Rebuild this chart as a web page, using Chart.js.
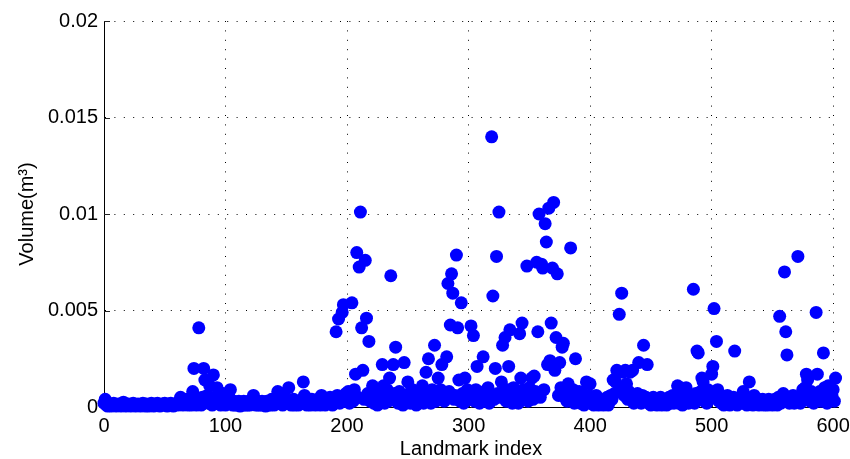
<!DOCTYPE html>
<html>
<head>
<meta charset="utf-8">
<script src="https://cdn.jsdelivr.net/npm/chart.js@4.4.0/dist/chart.umd.min.js"></script>
<style>
  html, body { margin: 0; padding: 0; background: #fff; }
  #wrap { width: 850px; height: 459px; }
</style>
</head>
<body>
<div id="wrap"><canvas id="volumeChart"></canvas></div>
<script>
// Volume (m^3) of each landmark, landmark index = position in the array (0..602)
const volume = [
  0.0002,0.0004,0.0001,0.00005,0.0001,0.00015,0.00005,0.0001,0.0002,0.0001,
  0.00005,0.0001,0.00015,0.0001,0.00005,0.0001,0.00025,0.0001,0.00005,0.0001,
  0.00015,0.0001,0.00005,0.0001,0.0002,0.0001,0.00005,0.0001,0.00015,0.0001,
  0.00005,0.0001,0.0002,0.0001,0.00005,0.00015,0.0001,0.00005,0.0001,0.0002,
  0.0001,0.00005,0.0001,0.00015,0.0002,0.0001,0.00005,0.0001,0.00015,0.0001,
  0.0002,0.0001,0.00005,0.0001,0.00015,0.0002,0.0001,0.00005,0.0001,0.00015,
  0.0002,0.0001,0.0003,0.0005,0.0002,0.0001,0.0003,0.0002,0.0004,0.0001,
  0.0003,0.0002,0.0001,0.0008,0.002,0.0003,0.0001,0.0004,0.0041,0.0002,
  0.0001,0.0005,0.002,0.0014,0.0003,0.0006,0.0002,0.0011,0.0004,0.0001,
  0.00166,0.0003,0.0005,0.001,0.0002,0.0004,0.0001,0.0003,0.0007,0.0002,
  0.0001,0.0003,0.0002,0.0005,0.0009,0.0002,0.0001,0.0003,0.0001,0.0002,
  0.0001,0.0003,0.00005,0.0002,0.0001,0.0003,0.0001,0.0002,0.0001,0.0003,
  0.0001,0.0002,0.0004,0.0006,0.0002,0.0001,0.0003,0.0001,0.0002,0.0001,
  0.0003,0.0001,0.0002,0.00005,0.0003,0.0001,0.0002,0.0001,0.0004,0.0002,
  0.0001,0.0003,0.0002,0.0008,0.0003,0.0007,0.0002,0.0001,0.0003,0.0002,
  0.0004,0.0002,0.001,0.0003,0.0001,0.0002,0.0004,0.0001,0.0003,0.0002,
  0.0001,0.0003,0.0002,0.0004,0.0013,0.0006,0.0002,0.0001,0.0003,0.0002,
  0.0001,0.0004,0.0002,0.0003,0.0001,0.0002,0.0004,0.0002,0.0001,0.0006,
  0.0002,0.0003,0.0001,0.0004,0.0002,0.0003,0.0005,0.0002,0.0001,0.0004,
  0.0003,0.0039,0.0006,0.00456,0.0002,0.0005,0.0049,0.0053,0.0003,0.0007,
  0.0004,0.0008,0.0002,0.0006,0.0054,0.0003,0.0009,0.0017,0.008,0.0005,
  0.00725,0.0101,0.0041,0.0019,0.0004,0.0076,0.0046,0.0007,0.0034,0.0003,
  0.0006,0.0011,0.0002,0.0008,0.0004,0.0001,0.0007,0.0003,0.0005,0.0022,
  0.0011,0.0002,0.0006,0.0009,0.0003,0.0015,0.0068,0.0004,0.0022,0.0007,
  0.0031,0.0005,0.0002,0.0008,0.0004,0.0006,0.0001,0.0023,0.0005,0.0003,
  0.0013,0.0007,0.0002,0.0005,0.0009,0.0003,0.0006,0.0001,0.0004,0.0008,
  0.0003,0.0006,0.0011,0.0002,0.0008,0.0018,0.0004,0.0025,0.0006,0.0002,
  0.0009,0.0005,0.0032,0.0003,0.0007,0.0015,0.0004,0.0009,0.0022,0.0006,
  0.0003,0.0005,0.0026,0.0064,0.0008,0.00425,0.0069,0.0059,0.0004,0.0006,
  0.00787,0.0041,0.0014,0.0003,0.0054,0.0007,0.0002,0.0015,0.0005,0.0009,
  0.0004,0.0008,0.0042,0.0006,0.0037,0.0003,0.0009,0.0021,0.0005,0.0002,
  0.0007,0.0004,0.0026,0.0008,0.0003,0.0006,0.001,0.0002,0.0005,0.014,
  0.00575,0.0004,0.002,0.0078,0.0007,0.0101,0.0005,0.0013,0.0032,0.0008,
  0.0036,0.0003,0.0009,0.0021,0.004,0.0006,0.0002,0.001,0.0004,0.0007,
  0.0005,0.0002,0.0038,0.0015,0.00435,0.0009,0.0004,0.0007,0.0073,0.0003,
  0.001,0.0006,0.0015,0.0004,0.0016,0.0008,0.0075,0.0039,0.01,0.0005,
  0.0074,0.0072,0.0009,0.0095,0.00855,0.0022,0.0103,0.0024,0.00435,0.0072,
  0.0106,0.0019,0.0036,0.0069,0.0006,0.0023,0.001,0.0031,0.0033,0.0005,
  0.0008,0.0003,0.0012,0.0006,0.00824,0.0004,0.0009,0.0002,0.0025,0.0006,
  0.0003,0.0008,0.0002,0.0005,0.0007,0.0001,0.0004,0.0013,0.0003,0.0006,
  0.0012,0.0002,0.0004,0.0001,0.0003,0.0006,0.0002,0.0001,0.0004,0.0002,
  0.0003,0.0001,0.0002,0.0003,0.0005,0.0001,0.0003,0.0006,0.0004,0.0014,
  0.0007,0.0013,0.0019,0.0018,0.0048,0.0009,0.0059,0.0018,0.0006,0.0019,
  0.0012,0.0004,0.0008,0.0018,0.0005,0.0019,0.0002,0.0006,0.0003,0.0007,
  0.0023,0.0004,0.0002,0.0006,0.0032,0.0003,0.0005,0.0022,0.0002,0.0004,
  0.0001,0.0003,0.0005,0.0002,0.0004,0.0001,0.0003,0.0002,0.0005,0.0001,
  0.0003,0.0002,0.0004,0.0001,0.0003,0.0005,0.0002,0.0004,0.0006,0.0002,
  0.0003,0.0005,0.0011,0.0002,0.001,0.0004,0.0001,0.0003,0.0006,0.001,
  0.0004,0.0002,0.0006,0.0003,0.0005,0.0061,0.0002,0.0007,0.0029,0.0028,
  0.0004,0.0008,0.0015,0.0013,0.0003,0.0006,0.0002,0.0009,0.0004,0.0007,
  0.0017,0.0021,0.0051,0.0005,0.0034,0.0009,0.0003,0.0006,0.0002,0.0005,
  0.0001,0.0004,0.0002,0.0006,0.0003,0.0001,0.0004,0.0002,0.0005,0.0029,
  0.0003,0.0001,0.0004,0.0002,0.0005,0.0003,0.0008,0.0002,0.0004,0.0001,
  0.0003,0.0013,0.0002,0.0004,0.0001,0.0006,0.0003,0.0002,0.0004,0.0001,
  0.0003,0.0002,0.0004,0.0001,0.0003,0.0002,0.0001,0.0004,0.0002,0.0003,
  0.0001,0.0002,0.0004,0.0003,0.0001,0.0005,0.0047,0.0002,0.0004,0.0007,
  0.007,0.0039,0.0027,0.0004,0.0002,0.0005,0.0003,0.0006,0.0002,0.0004,
  0.0003,0.0078,0.0005,0.0002,0.0006,0.0009,0.0004,0.001,0.0017,0.0014,
  0.0006,0.0003,0.0008,0.0005,0.0002,0.0007,0.0049,0.0017,0.0004,0.0008,
  0.0003,0.0006,0.0028,0.001,0.0005,0.0002,0.0011,0.0007,0.0004,0.0006,
  0.0009,0.0003,0.0015
];

const xTicks = [0, 100, 200, 300, 400, 500, 600];
const yTicks = [0, 0.005, 0.01, 0.015, 0.02];
const xMax = 604;
const yMax = 0.02;

const font = { family: "'Liberation Sans', Arial, Helvetica, sans-serif", size: 20 };

// MATLAB style ticks pointing into the plot
const inwardTicks = {
    id: 'inwardTicks',
    beforeDatasetsDraw(chart) {
        const { ctx, chartArea: a, scales: { x, y } } = chart;
        ctx.save();
        ctx.strokeStyle = '#222';
        ctx.lineWidth = 1;
        ctx.beginPath();
        yTicks.forEach(v => {
            const py = Math.round(y.getPixelForValue(v)) + 0.5;
            ctx.moveTo(a.left, py);
            ctx.lineTo(a.left + 6, py);
        });
        xTicks.forEach(v => {
            const px = Math.round(x.getPixelForValue(v)) + 0.5;
            ctx.moveTo(px, a.bottom);
            ctx.lineTo(px, a.bottom - 6);
        });
        ctx.stroke();
        ctx.restore();
    }
};

const ctx = document.getElementById('volumeChart').getContext('2d');
new Chart(ctx, {
    type: 'scatter',
    data: {
        datasets: [{
            data: volume.map((v, i) => ({ x: i, y: v })),
            backgroundColor: '#0000ff',
            borderWidth: 0,
            pointRadius: 6.5,
            pointHoverRadius: 6.5,
            clip: false
        }]
    },
    options: {
        responsive: true,
        maintainAspectRatio: false,
        animation: false,
        events: [],
        layout: { padding: { top: 21, right: 12, left: 0, bottom: 0 } },
        plugins: { legend: { display: false }, tooltip: { enabled: false } },
        scales: {
            x: {
                type: 'linear',
                min: 0,
                max: xMax,
                afterBuildTicks: s => { s.ticks = xTicks.map(v => ({ value: v })); },
                afterFit: s => { s.height = 52; s.paddingLeft = 0; s.paddingRight = 0; },
                ticks: { color: '#000', font: font, padding: 7, maxRotation: 0 },
                grid: { color: '#000', lineWidth: 1, drawTicks: false },
                border: { display: true, color: '#000', width: 1, dash: [1, 8.4] },
                title: {
                    display: true,
                    text: 'Landmark index',
                    color: '#000',
                    font: { ...font, lineHeight: 1 },
                    padding: { top: 0, bottom: 0 }
                }
            },
            y: {
                type: 'linear',
                min: 0,
                max: yMax,
                afterBuildTicks: s => { s.ticks = yTicks.map(v => ({ value: v })); },
                afterFit: s => { s.width = 104; s.paddingTop = 0; s.paddingBottom = 0; },
                ticks: {
                    color: '#000',
                    font: font,
                    padding: 6,
                    callback: v => String(+v.toFixed(3))
                },
                grid: { color: '#000', lineWidth: 1, drawTicks: false },
                border: { display: true, color: '#000', width: 1, dash: [1, 8.4] },
                title: {
                    display: true,
                    text: 'Volume(m³)',
                    color: '#000',
                    font: { ...font, lineHeight: 1 },
                    padding: { top: 17, bottom: 0 }
                }
            }
        }
    },
    plugins: [inwardTicks]
});
</script>
</body>
</html>
